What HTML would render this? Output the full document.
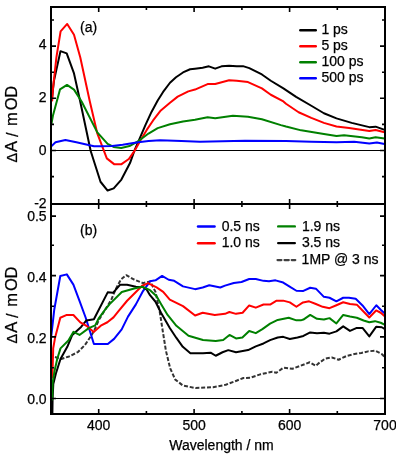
<!DOCTYPE html><html><head><meta charset="utf-8"><style>
html,body{margin:0;padding:0;background:#fff;width:396px;height:455px;overflow:hidden}
svg{display:block;will-change:transform}
text{font-family:"Liberation Sans", sans-serif;fill:#000;stroke:#000;stroke-width:0.25px}
</style></head><body>
<svg width="396" height="455" viewBox="0 0 396 455">
<rect width="396" height="455" fill="#fff"/>
<line x1="51.0" y1="150.5" x2="385.0" y2="150.5" stroke="#000" stroke-width="1.2"/>
<line x1="51.0" y1="398.5" x2="385.0" y2="398.5" stroke="#000" stroke-width="1.2"/>
<g fill="none" stroke-width="2" stroke-linejoin="round" stroke-linecap="round">
<polyline stroke="#000000" points="52.20,96.45 53.90,81.15 60.50,51.15 66.70,53.35 74.00,73.45 80.00,100.45 90.70,150.95 100.50,181.75 107.60,190.55 113.70,188.35 121.40,179.55 130.00,163.05 134.50,150.45 139.20,139.65 145.40,125.05 151.50,111.95 157.70,100.45 163.10,91.95 170.00,82.75 176.00,77.25 183.00,72.45 190.10,69.25 195.00,68.65 202.60,67.65 208.90,66.35 215.20,68.65 221.50,66.35 229.10,65.65 236.70,66.35 243.00,66.15 249.30,68.15 261.90,74.45 270.80,80.75 283.40,88.35 286.00,90.05 296.10,96.85 311.30,105.75 323.90,113.25 336.50,118.35 351.70,122.85 369.30,127.15 375.60,126.65 384.00,129.65"/>
<polyline stroke="#ff0000" points="52.20,100.45 53.00,88.45 56.40,57.45 60.60,31.45 67.20,23.95 74.00,34.75 80.30,57.45 89.60,100.45 97.30,133.45 106.80,158.35 114.40,164.35 121.20,164.35 128.80,159.05 134.50,150.95 140.80,139.65 146.90,129.65 153.10,120.45 160.80,110.45 170.00,102.75 177.70,96.65 188.30,91.35 195.00,89.55 207.60,84.05 215.20,84.05 229.10,80.25 236.70,80.75 248.00,82.05 261.90,88.35 270.80,94.75 283.40,101.45 286.00,103.75 298.60,112.25 311.30,117.85 323.90,122.85 336.50,126.45 349.10,127.95 369.30,130.95 375.60,129.95 384.50,132.25"/>
<polyline stroke="#008000" points="51.60,122.95 52.90,115.75 60.00,89.45 67.00,84.95 74.00,89.65 81.60,101.45 97.30,132.35 107.60,143.95 113.60,146.95 121.20,148.05 129.50,146.05 137.90,141.45 148.50,133.55 157.70,128.15 170.00,124.25 183.00,121.45 195.00,119.85 207.60,117.35 215.20,118.15 232.90,115.65 248.00,116.65 261.90,119.25 280.90,125.15 286.00,126.55 301.20,130.35 323.90,133.95 336.50,136.05 344.10,135.25 361.80,137.25 369.30,138.55 375.60,137.25 384.50,138.55"/>
<polyline stroke="#0000ff" points="51.00,146.65 55.50,142.25 65.40,140.05 76.40,142.25 94.00,146.15 100.00,146.25 112.10,145.95 122.70,144.65 136.40,142.45 148.50,140.95 160.00,140.35 181.50,140.95 200.00,141.65 245.00,140.85 286.00,141.05 311.30,141.85 336.50,142.35 354.20,141.85 369.30,143.55 376.90,142.55 384.50,144.05"/>
<polyline stroke="#333333" stroke-dasharray="4 1.8" stroke-linecap="butt" points="55.00,356.95 61.20,358.95 69.10,356.45 77.90,352.05 84.90,345.05 89.50,338.25 93.90,331.25 98.90,319.95 104.10,311.35 111.20,299.95 115.60,289.35 120.90,279.55 126.20,275.15 134.20,279.55 143.00,283.15 150.10,281.35 155.50,291.85 159.90,312.75 162.80,331.35 165.90,350.65 170.20,368.35 175.30,379.65 182.80,385.45 195.50,388.05 213.10,387.25 225.80,384.75 235.90,380.95 243.40,377.95 250.10,377.85 260.20,374.35 272.30,371.75 276.40,372.75 283.40,367.75 292.50,368.75 300.60,365.75 309.70,362.25 315.80,365.75 318.20,363.65 325.00,358.65 331.80,357.45 338.60,359.75 346.60,355.95 354.50,354.05 361.40,352.95 368.20,351.35 375.00,350.65 381.80,354.05 385.20,357.45"/>
<polyline stroke="#0000ff" points="51.00,338.45 54.20,310.05 60.30,275.95 66.80,274.35 73.40,284.65 79.50,300.85 85.70,317.75 93.90,343.95 107.80,343.95 114.10,338.85 121.70,329.35 128.00,316.65 135.90,304.35 143.00,291.05 150.10,281.35 155.50,280.35 162.10,275.95 168.70,279.75 174.20,280.85 183.00,286.35 195.10,289.15 202.70,287.45 209.30,285.25 220.30,287.45 225.00,285.65 233.80,283.05 241.50,281.95 249.20,279.05 255.80,279.05 263.50,280.85 269.00,281.25 275.50,280.35 283.20,282.55 290.90,287.45 296.40,290.75 303.40,290.95 310.20,287.75 315.90,288.65 323.90,296.85 329.50,297.75 336.40,301.35 343.20,297.75 348.90,297.75 355.70,298.75 362.50,305.45 369.30,314.05 376.30,305.25 380.70,309.75 385.00,313.65"/>
<polyline stroke="#000000" points="52.40,412.95 52.60,398.45 53.30,383.95 55.90,373.45 60.50,358.95 67.30,346.85 72.30,334.95 81.10,326.95 86.40,320.45 93.90,319.25 107.70,292.35 113.00,292.85 120.00,284.85 127.10,284.85 135.90,286.65 143.00,287.05 146.50,289.35 150.00,295.15 155.50,301.75 161.00,312.75 169.80,328.05 176.40,337.95 182.80,346.85 190.40,353.15 203.00,353.15 210.60,352.65 215.70,355.75 222.50,352.25 228.30,350.15 236.00,352.25 248.10,350.05 255.80,346.35 263.50,343.45 270.10,340.15 277.70,337.55 283.20,336.85 289.80,339.05 297.50,337.55 303.40,335.95 310.20,332.45 317.00,333.15 323.90,332.75 329.50,333.65 336.40,331.35 343.20,326.35 350.00,330.95 356.80,327.95 362.50,327.95 369.30,336.35 376.10,326.85 381.80,327.25 385.00,329.05"/>
<polyline stroke="#ff0000" points="52.40,377.45 53.20,348.45 55.00,338.05 60.30,317.75 66.80,314.95 73.40,314.95 80.30,322.35 87.40,326.45 93.70,331.95 100.80,325.65 107.40,322.25 113.50,317.35 118.30,311.35 127.10,300.75 135.90,291.95 142.10,285.75 148.30,283.15 150.00,284.15 156.60,287.45 163.20,291.85 169.80,299.55 183.00,306.15 195.10,315.55 202.70,312.75 214.80,314.95 225.00,313.85 229.40,312.05 236.00,313.85 242.60,312.75 249.20,305.45 255.80,307.65 263.50,304.55 270.10,304.55 276.60,300.65 283.20,300.65 289.80,302.35 296.40,306.75 303.00,302.45 309.10,301.35 315.90,304.05 322.70,306.85 329.50,308.15 336.40,305.25 343.20,302.25 350.00,304.05 356.80,304.65 362.50,310.45 369.30,317.45 376.10,310.45 380.70,312.75 385.00,316.55"/>
<polyline stroke="#008000" points="52.30,399.45 52.60,382.65 54.60,370.75 57.20,358.95 60.50,348.35 68.40,340.45 73.50,331.85 79.50,334.95 88.80,328.15 95.20,325.35 98.90,318.05 104.60,310.45 109.40,304.35 121.80,291.95 134.20,288.45 142.10,286.65 150.10,290.15 156.60,296.25 161.00,303.95 167.60,314.95 176.40,325.85 188.50,335.75 203.00,340.05 215.70,341.05 223.20,340.05 229.50,334.95 236.00,338.45 242.40,337.55 249.20,330.95 255.80,333.15 262.40,329.15 270.10,323.65 277.70,319.95 288.70,317.75 296.40,320.35 300.80,320.35 303.40,319.55 310.20,314.95 317.00,318.85 323.90,319.55 329.50,318.15 336.40,323.45 343.20,314.95 350.00,316.55 356.80,317.75 363.60,320.45 369.30,322.25 375.00,321.15 380.70,322.75 385.00,324.95"/>
</g>
<g stroke="#000" stroke-width="2" fill="none">
<rect x="51.0" y="7.0" width="334.0" height="407.0"/>
<line x1="51.0" y1="204.0" x2="385.0" y2="204.0"/>
</g>
<path stroke="#000" stroke-width="1.6" fill="none" d="M98.7 7.0v5.0M98.7 204.0v-5.0M98.7 204.0v5.0M98.7 414.0v-5.0M146.4 7.0v3.0M146.4 204.0v-3.0M146.4 204.0v3.0M146.4 414.0v-3.0M194.1 7.0v5.0M194.1 204.0v-5.0M194.1 204.0v5.0M194.1 414.0v-5.0M241.9 7.0v3.0M241.9 204.0v-3.0M241.9 204.0v3.0M241.9 414.0v-3.0M289.6 7.0v5.0M289.6 204.0v-5.0M289.6 204.0v5.0M289.6 414.0v-5.0M337.3 7.0v3.0M337.3 204.0v-3.0M337.3 204.0v3.0M337.3 414.0v-3.0M51.0 20.0h3.0M385.0 20.0h-3.0M51.0 46.1h5.0M385.0 46.1h-5.0M51.0 72.2h3.0M385.0 72.2h-3.0M51.0 98.3h5.0M385.0 98.3h-5.0M51.0 124.4h3.0M385.0 124.4h-3.0M51.0 150.5h5.0M385.0 150.5h-5.0M51.0 176.6h3.0M385.0 176.6h-3.0M51.0 216.1h5.0M385.0 216.1h-5.0M51.0 245.2h3.0M385.0 245.2h-3.0M51.0 275.6h5.0M385.0 275.6h-5.0M51.0 306.2h3.0M385.0 306.2h-3.0M51.0 336.9h5.0M385.0 336.9h-5.0M51.0 367.7h3.0M385.0 367.7h-3.0M51.0 398.5h5.0M385.0 398.5h-5.0"/>
<text x="46.6" y="49.0" font-size="14" text-anchor="end">4</text>
<text x="46.6" y="101.8" font-size="14" text-anchor="end">2</text>
<text x="46.6" y="154.8" font-size="14" text-anchor="end">0</text>
<text x="46.6" y="207.9" font-size="14" text-anchor="end">-2</text>
<text x="46.6" y="221.2" font-size="14" text-anchor="end">0.5</text>
<text x="46.6" y="281.7" font-size="14" text-anchor="end">0.4</text>
<text x="46.6" y="342.7" font-size="14" text-anchor="end">0.2</text>
<text x="46.6" y="403.9" font-size="14" text-anchor="end">0.0</text>
<text x="98.7" y="430.0" font-size="14" text-anchor="middle">400</text>
<text x="194.1" y="430.0" font-size="14" text-anchor="middle">500</text>
<text x="289.6" y="430.0" font-size="14" text-anchor="middle">600</text>
<text x="385.0" y="430.0" font-size="14" text-anchor="middle">700</text>
<text x="221.5" y="449.5" font-size="14" text-anchor="middle">Wavelength / nm</text>
<g transform="translate(16.9,0) rotate(-90)" class="b">
<text x="-162.6" y="0.0" font-size="14.5">&#916;</text>
<text x="-152.0" y="0.0" font-size="16.5">A</text>
<text x="-137.1" y="1.0" font-size="16.5">/</text>
<text x="-125.9" y="0.0" font-size="16.5">m</text>
<text x="-110.3" y="0.0" font-size="16.5">O</text>
<text x="-97.7" y="0.0" font-size="16.5">D</text>
</g>
<g transform="translate(16.9,0) rotate(-90)" class="b">
<text x="-343.4" y="0.0" font-size="14.5">&#916;</text>
<text x="-332.8" y="0.0" font-size="16.5">A</text>
<text x="-317.9" y="1.0" font-size="16.5">/</text>
<text x="-306.7" y="0.0" font-size="16.5">m</text>
<text x="-291.1" y="0.0" font-size="16.5">O</text>
<text x="-278.5" y="0.0" font-size="16.5">D</text>
</g>
<text x="80" y="31.7" font-size="14">(a)</text>
<text x="80" y="234.9" font-size="14">(b)</text>
<line x1="300.3" y1="30.2" x2="315.8" y2="30.2" stroke="#000000" stroke-width="2.4" stroke-linecap="round"/>
<text x="321.4" y="33.6" font-size="14">1 ps</text>
<line x1="300.3" y1="46.2" x2="315.8" y2="46.2" stroke="#ff0000" stroke-width="2.4" stroke-linecap="round"/>
<text x="321.4" y="49.6" font-size="14">5 ps</text>
<line x1="300.3" y1="62.2" x2="315.8" y2="62.2" stroke="#008000" stroke-width="2.4" stroke-linecap="round"/>
<text x="321.4" y="65.6" font-size="14">100 ps</text>
<line x1="300.3" y1="78.2" x2="315.8" y2="78.2" stroke="#0000ff" stroke-width="2.4" stroke-linecap="round"/>
<text x="321.4" y="81.6" font-size="14">500 ps</text>
<line x1="198.0" y1="226.5" x2="214.6" y2="226.5" stroke="#0000ff" stroke-width="2.4" stroke-linecap="round"/>
<text x="221.7" y="230.6" font-size="14">0.5 ns</text>
<line x1="198.0" y1="243.2" x2="214.6" y2="243.2" stroke="#ff0000" stroke-width="2.4" stroke-linecap="round"/>
<text x="221.7" y="247.3" font-size="14">1.0 ns</text>
<line x1="278.2" y1="226.4" x2="294.8" y2="226.4" stroke="#008000" stroke-width="2.4" stroke-linecap="round"/>
<text x="301.9" y="230.5" font-size="14">1.9 ns</text>
<line x1="278.2" y1="243.1" x2="294.8" y2="243.1" stroke="#000000" stroke-width="2.4" stroke-linecap="round"/>
<text x="301.9" y="247.2" font-size="14">3.5 ns</text>
<line x1="277.5" y1="260.1" x2="281.4" y2="260.1" stroke="#404040" stroke-width="2.2" stroke-linecap="round"/>
<line x1="284.5" y1="260.1" x2="288.8" y2="260.1" stroke="#404040" stroke-width="2.2" stroke-linecap="round"/>
<line x1="291.7" y1="260.1" x2="295.3" y2="260.1" stroke="#404040" stroke-width="2.2" stroke-linecap="round"/>
<text x="301.6" y="264.2" font-size="14">1MP @ 3 ns</text>
</svg></body></html>
